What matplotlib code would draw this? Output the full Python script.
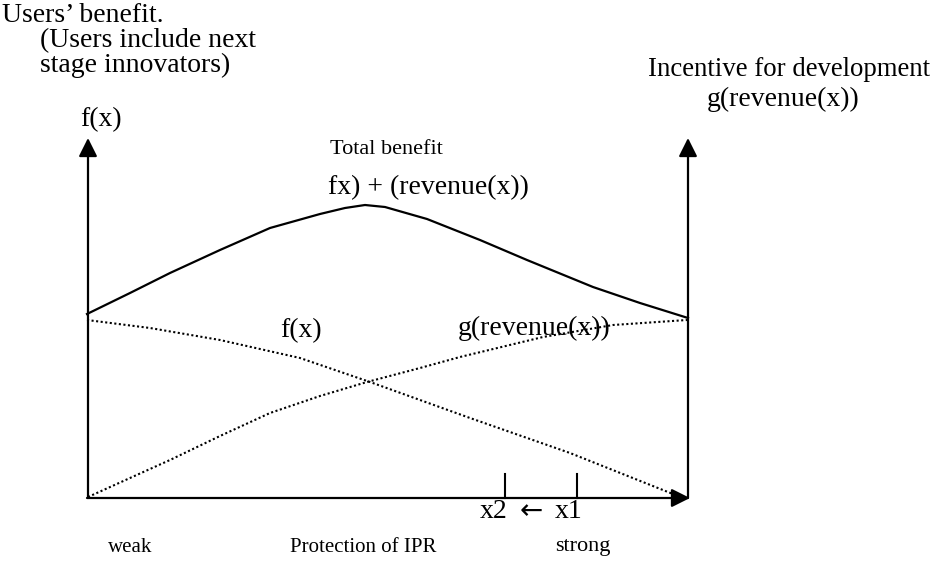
import numpy as np
from matplotlib import pyplot as plt

plt.rcParams['font.family'] = ['Liberation Serif', 'DejaVu Serif']

# curve points (pixel space, y grows downward)
total_x = [87, 130, 170, 220, 270, 320, 345, 365, 385, 427, 480, 527, 593, 640, 688]
total_y = [314, 293, 273, 250, 228, 214, 208, 205, 207, 219, 240, 260, 287, 303, 318]

f_x = [87, 150, 220, 300, 370, 470, 570, 683]
f_y = [320, 328, 340, 358, 382, 418, 453, 498]

g_x = [88, 130, 170, 220, 270, 320, 367, 420, 460, 543, 613, 687]
g_y = [497, 478, 460, 436, 413, 396, 382, 368, 357, 337, 325, 320]

tick_x = [505, 577]

W, H = 941, 568
fig = plt.figure(figsize=(W / 100, H / 100), dpi=100)
ax = fig.add_axes([0, 0, 1, 1])
ax.set_xlim(0, W)
ax.set_ylim(H, 0)
ax.axis('off')

arrow = dict(arrowstyle='-|>', mutation_scale=28, lw=1.6, color='black',
             shrinkA=0, shrinkB=0)
ax.annotate('', xy=(88, 138), xytext=(88, 498), arrowprops=arrow)
ax.annotate('', xy=(688, 138), xytext=(688, 498), arrowprops=arrow)
ax.annotate('', xy=(690, 498), xytext=(87, 498), arrowprops=arrow)

ax.plot(total_x, total_y, color='black', lw=1.6, solid_joinstyle='round')
ax.plot(f_x, f_y, color='black', lw=1.5, linestyle=(0, (1, 1.2)))
ax.plot(g_x, g_y, color='black', lw=1.5, linestyle=(0, (1, 1.2)))

for tx in tick_x:
    ax.plot([tx, tx], [474, 498], color='black', lw=1.5)

fs = 20
ax.text(2, 15, 'Users\u2019 benefit.', fontsize=fs, va='center')
ax.text(40, 41, '(Users include next', fontsize=fs, va='center')
ax.text(40, 65, 'stage innovators)', fontsize=fs, va='center')
ax.text(80, 120, 'f(x)', fontsize=fs, va='center')
ax.text(648, 70, 'Incentive for development', fontsize=19.3, va='center')
ax.text(707, 99, 'g(revenue(x))', fontsize=fs, va='center')
ax.text(330, 149, 'Total benefit', fontsize=16, va='center')
ax.text(328, 188, 'fx) + (revenue(x))', fontsize=fs, va='center')
ax.text(280, 331, 'f(x)', fontsize=fs, va='center')
ax.text(458, 328, 'g(revenue(x))', fontsize=fs, va='center')
ax.text(480, 512, 'x2', fontsize=fs, va='center', ha='left')
ax.text(531, 511, '\u2190', fontsize=fs, va='center', ha='center',
        family=['DejaVu Sans'])
ax.text(583, 512, 'x1', fontsize=fs, va='center', ha='right')
ax.text(108, 547, 'weak', fontsize=15, va='center')
ax.text(290, 547, 'Protection of IPR', fontsize=15, va='center')
ax.text(555, 547, 'strong', fontsize=16, va='center')

fig.savefig('out.png', dpi=100)
